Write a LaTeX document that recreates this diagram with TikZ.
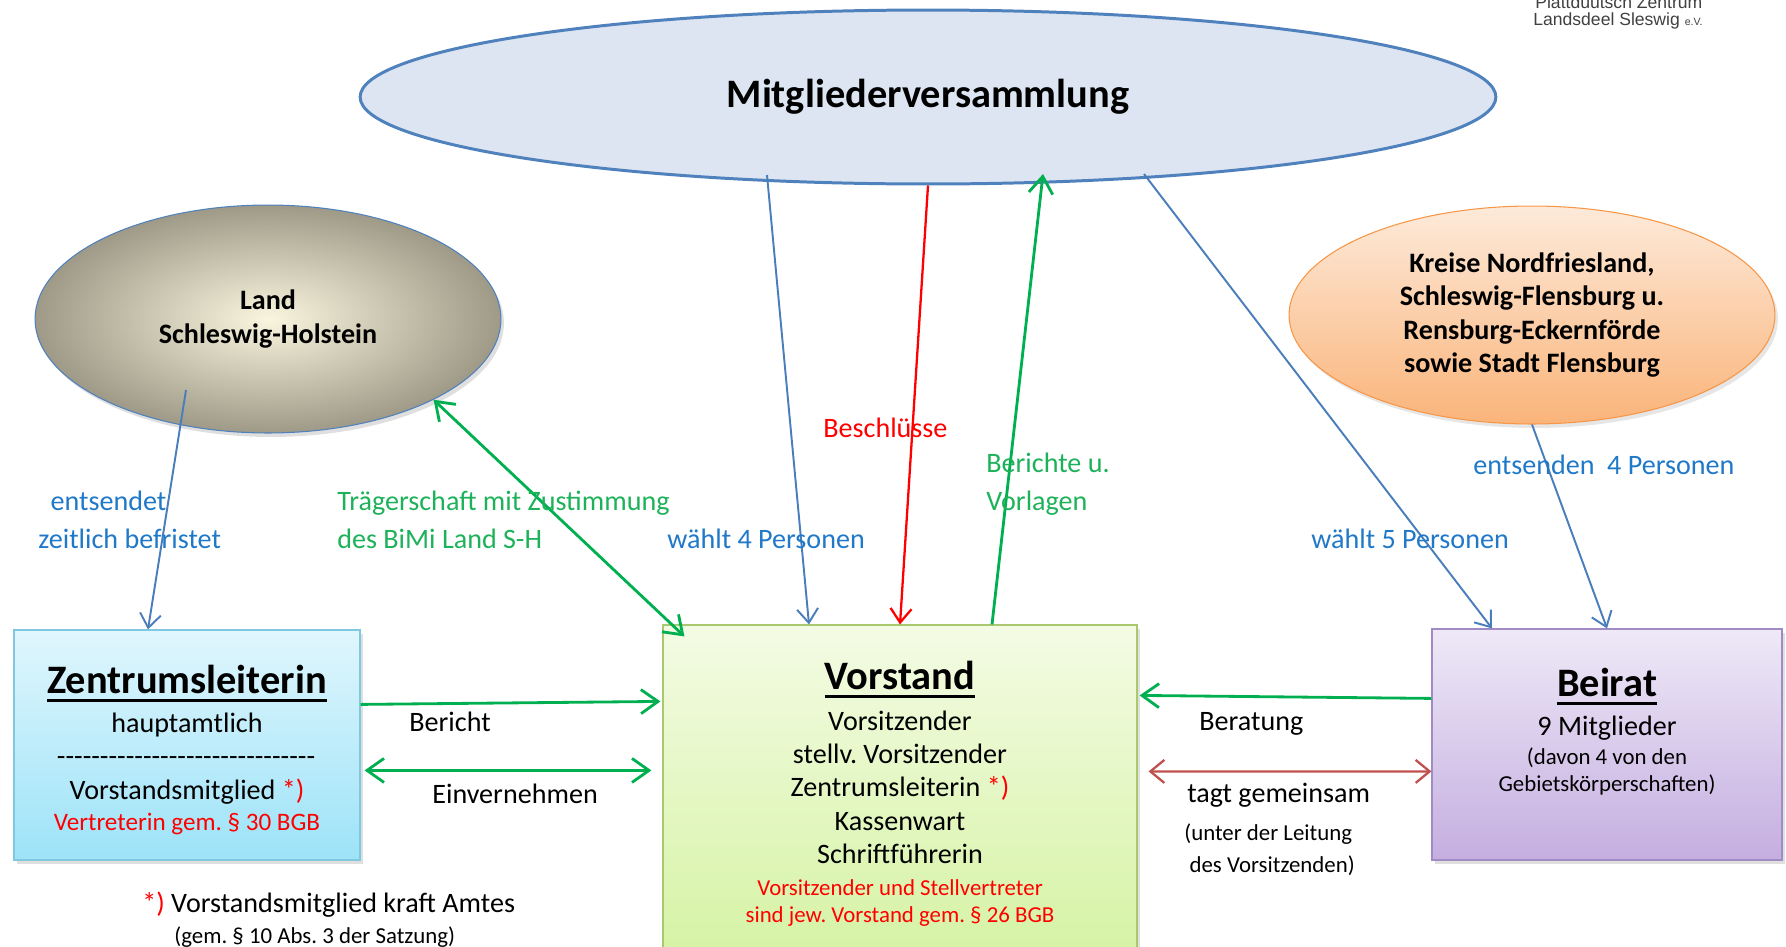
\documentclass[tikz,border=0pt]{standalone}
\usepackage{fontspec}
\setmainfont{Carlito}
\newfontfamily\logofont{Liberation Sans}
\usetikzlibrary{shapes.geometric,arrows.meta,shadows}
\frenchspacing

\definecolor{mvline}{HTML}{4F81BD}
\definecolor{mvfill}{HTML}{DCE5F1}
\definecolor{arrblue}{HTML}{4A7EBB}
\definecolor{arrgreen}{HTML}{00B050}
\definecolor{arrred}{HTML}{FF0000}
\definecolor{arrtagt}{HTML}{C0504D}
\definecolor{lblblue}{HTML}{1F78C8}
\definecolor{lblgreen}{HTML}{1DB25A}
\definecolor{logogray}{HTML}{404040}

\newsavebox{\ttlbox}
\newcommand{\boxtitle}[1]{%
  \sbox{\ttlbox}{\fontsize{23}{27}\selectfont\bfseries #1}%
  \rlap{\rule[-4.5pt]{\wd\ttlbox}{1.6pt}}\usebox{\ttlbox}}
\newcommand{\amtmark}{\textcolor{red}{*)}}
\newcommand{\smallred}[1]{{\fontsize{13}{15}\selectfont\color{red}#1}}
\newcommand{\smalltxt}[1]{{\fontsize{13}{15}\selectfont #1}}
\newcommand{\dashrow}{\hbox to 148pt{\leaders\hbox to 4.9pt{\hss-\hss}\hfill}}

\tikzset
{
    bodytxt/.style  = {font=\fontsize{16}{19}\selectfont},
    orgell/.style   = {ellipse, align=center, inner sep=0pt, font=\fontsize{16}{19}\selectfont\bfseries},
    orgbox/.style   = {rectangle, inner sep=0pt, line width=0.7pt, drop shadow={opacity=0.25, shadow xshift=0.6mm, shadow yshift=-0.8mm}},
    boxtext/.style  = {bodytxt, align=center, inner sep=0pt, anchor=north},
    arrlabel/.style = {font=\fontsize{16}{21.6}\selectfont, align=left, inner sep=0pt, anchor=west},
    bluearr/.style  = {-{Straight Barb[length=2.8mm,width=4.2mm]}, draw=arrblue, line width=1.1pt},
    greenarr/.style = {draw=arrgreen, line width=1.6pt}
}

\begin{document}
\begin{tikzpicture}[x=0.02cm, y=-0.02cm, >={Straight Barb[length=3.4mm,width=4.8mm]}]
\useasboundingbox (0,0) rectangle (1786,947);
\clip (0,0) rectangle (1786,947);

% ellipses
\node[orgell, draw=mvline, line width=1.7pt, fill=mvfill, minimum width=22.72cm, minimum height=3.48cm, font=\fontsize{23}{27}\selectfont\bfseries] (mv) at (928,97) {Mitgliederversammlung};
\node[orgell, draw=mvline, line width=0.6pt, inner color={rgb,255:red,250;green,245;blue,222}, outer color={rgb,255:red,158;green,154;blue,135}, minimum width=9.32cm, minimum height=4.56cm, drop shadow={opacity=0.25, shadow xshift=0.6mm, shadow yshift=-0.8mm}] (land) at (268,319) {Land\\Schleswig-Holstein};
\node[orgell, draw={rgb,255:red,247;green,150;blue,70}, line width=0.6pt, top color={rgb,255:red,253;green,234;blue,218}, bottom color={rgb,255:red,250;green,180;blue,122}, minimum width=9.72cm, minimum height=4.36cm, drop shadow={opacity=0.2, shadow xshift=0.6mm, shadow yshift=-0.8mm}] (kr) at (1532,315) {Kreise Nordfriesland,\\Schleswig-Flensburg u.\\Rensburg-Eckernförde\\sowie Stadt Flensburg};

% boxes
\node[orgbox, draw={rgb,255:red,127;green,200;blue,224}, top color={rgb,255:red,224;green,246;blue,253}, bottom color={rgb,255:red,157;green,227;blue,248}, minimum width=6.92cm, minimum height=4.6cm] (zl) at (187,745) {};
\node[orgbox, draw={rgb,255:red,170;green,200;blue,110}, top color={rgb,255:red,244;green,251;blue,228}, bottom color={rgb,255:red,213;green,243;blue,164}, minimum width=9.48cm, minimum height=6.68cm] (vs) at (900,792) {};
\node[orgbox, draw={rgb,255:red,160;green,139;blue,196}, top color={rgb,255:red,238;green,233;blue,247}, bottom color={rgb,255:red,197;green,174;blue,224}, minimum width=7.0cm, minimum height=4.62cm] (br) at (1607,744.5) {};

% box texts
\node[boxtext] (zltext) at (187,665) {\boxtitle{Zentrumsleiterin}\\[3pt] hauptamtlich\\ \dashrow\\ Vorstandsmitglied \amtmark\\[-1pt] {\fontsize{14.3}{17}\selectfont\color{red}Vertreterin gem. § 30 BGB}};
\node[boxtext] (vstext) at (900,661) {\boxtitle{Vorstand}\\[4pt] Vorsitzender\\ stellv. Vorsitzender\\ Zentrumsleiterin \amtmark\\ Kassenwart\\ Schriftführerin\\[-0.8pt] \smallred{Vorsitzender und Stellvertreter}\\[-3.6pt] \smallred{sind jew. Vorstand gem. § 26 BGB}};
\node[boxtext] (brtext) at (1607,668) {\boxtitle{Beirat}\\[3pt] 9 Mitglieder\\[-2.5pt] \smalltxt{(davon 4 von den}\\[-3.5pt] \smalltxt{Gebietskörperschaften)}};

% connectors
\draw[bluearr] ([shift={(-82,71)}]land.center) -- ([shift={(-39,0)}]zl.north);
\draw[greenarr, <->] (land.-26) -- ([shift={(22,12)}]vs.north west);
\draw[bluearr] ([shift={(-161,78)}]mv.center) -- ([shift={(-91,0)}]vs.north);
\draw[draw=arrred, line width=1.3pt, -{Straight Barb[length=2.8mm,width=4.2mm]}] (mv.south) -- (vs.north);
\draw[greenarr, ->] ([shift={(92,0)}]vs.north) -- ([shift={(115,77)}]mv.center);
\draw[bluearr] ([shift={(216,77)}]mv.center) -- ([shift={(-115,0)}]br.north);
\draw[bluearr] (kr.south) -- (br.north);
\draw[greenarr, ->] ([shift={(0,75)}]zl.north east) -- ([shift={(-2,77)}]vs.north west);
\draw[greenarr, <->] ([shift={(4,141)}]zl.north east) -- ([shift={(-11,146)}]vs.north west);
\draw[greenarr, ->] ([shift={(0,70)}]br.north west) -- ([shift={(2,71)}]vs.north east);
\draw[draw=arrtagt, line width=1.3pt, {Straight Barb[length=2.8mm,width=4.6mm]}-{Straight Barb[length=2.8mm,width=4.6mm]}] ([shift={(11,147)}]vs.north east) -- ([shift={(0,143)}]br.north west);

% labels
\node[arrlabel, text=lblblue] (entlbl) at (38,520) {\hspace*{7pt}entsendet\\zeitlich befristet};
\node[arrlabel, text=lblgreen] (traelbl) at (337,520) {Trägerschaft mit Zustimmung\\des BiMi Land S-H};
\node[arrlabel, text=lblblue] (w4lbl) at (667,539) {wählt 4 Personen};
\node[arrlabel, text=red] (beslbl) at (823,428) {Beschlüsse};
\node[arrlabel, text=lblgreen] (berlbl) at (986,484) {Berichte u.\\Vorlagen};
\node[arrlabel, text=lblblue] (w5lbl) at (1311,539) {wählt 5 Personen};
\node[arrlabel, text=lblblue] (ent4lbl) at (1473,465) {entsenden~~4 Personen};
\node[arrlabel] (bchlbl) at (409,722) {Bericht};
\node[arrlabel] (einlbl) at (432,794) {Einvernehmen};
\node[arrlabel] (ratlbl) at (1199,724) {Beratung};
\node[arrlabel] (tagtlbl) at (1187,795) {tagt gemeinsam};
\node[arrlabel, font=\fontsize{13}{18}\selectfont] (leitlbl) at (1184,850) {(unter der Leitung\\\hspace*{3pt}des Vorsitzenden)};

% footnote
\node[arrlabel] (fnote) at (142,905) {\amtmark\ Vorstandsmitglied kraft Amtes};
\node[arrlabel, font=\fontsize{13}{18}\selectfont] (fnote2) at (174,937) {(gem. § 10 Abs. 3 der Satzung)};

% logo
\node[anchor=west, inner sep=0pt, font=\logofont\fontsize{10}{12}\selectfont, text=logogray] (logo1) at (1535,2) {Plattdüütsch Zentrum};
\node[anchor=west, inner sep=0pt, font=\logofont\fontsize{10}{12}\selectfont, text=logogray] (logo2) at (1533,21) {Landsdeel Sleswig {\fontsize{6}{7}\selectfont e.V.}};
\end{tikzpicture}
\end{document}
